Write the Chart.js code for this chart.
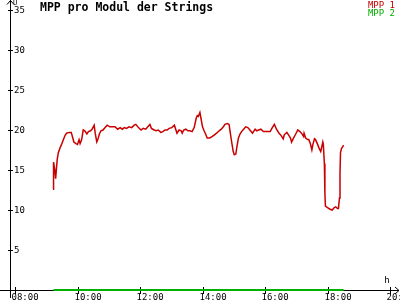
<!DOCTYPE html>
<html>
<head>
<meta charset="utf-8">
<script src="https://cdn.jsdelivr.net/npm/chart.js@4/dist/chart.umd.min.js"></script>
<style>
  html, body { margin: 0; padding: 0; background: #fff; }
  #wrap { width: 400px; height: 300px; }
</style>
</head>
<body>
<div id="wrap"><canvas id="chart" width="400" height="300"></canvas></div>
<script>
// ===== data =====
const mpp1Times = [
  "09:13","09:14","09:16","09:18","09:21","09:23","09:26","09:30","09:33","09:36",
  "09:39","09:44","09:48","09:51","09:53","09:57","10:00","10:03","10:05","10:08",
  "10:11","10:14","10:18","10:21","10:25","10:28","10:32","10:34","10:37","10:39",
  "10:42","10:45","10:49","10:53","10:57","11:02","11:09","11:12","11:17","11:22",
  "11:26","11:30","11:34","11:39","11:44","11:49","11:52","11:57","12:02","12:06",
  "12:11","12:15","12:19","12:22","12:27","12:31","12:35","12:40","12:44","12:48",
  "12:52","12:56","13:01","13:06","13:09","13:11","13:15","13:19","13:21","13:24",
  "13:28","13:32","13:36","13:40","13:44","13:48","13:50","13:52","13:55","13:57",
  "14:00","14:03","14:06","14:09","14:14","14:19","14:23","14:27","14:32","14:36",
  "14:40","14:43","14:48","14:51","14:53","14:56","14:59","15:01","15:04","15:06",
  "15:09","15:12","15:15","15:19","15:23","15:27","15:31","15:36","15:41","15:44",
  "15:48","15:52","15:57","16:03","16:10","16:14","16:18","16:22","16:27","16:31",
  "16:35","16:37","16:42","16:46","16:49","16:51","16:54","16:59","17:03","17:07",
  "17:10","17:14","17:15","17:18","17:22","17:24","17:27","17:30","17:32","17:35",
  "17:37","17:41","17:44","17:47","17:49","17:51","17:52","17:54","17:55","17:56",
  "18:00","18:05","18:09","18:13","18:16","18:19","18:21","18:23","18:24","18:25",
  "18:27","18:29","18:31"
];
const mpp1Values = [
  12.6,16.0,15.2,13.9,16.3,17.1,17.7,18.3,18.8,19.3,
  19.6,19.7,19.7,19.0,18.5,18.3,18.2,18.8,18.3,18.8,
  20.0,19.9,19.5,19.8,19.9,20.1,20.6,19.6,18.5,18.8,
  19.5,19.9,20.0,20.3,20.6,20.4,20.4,20.4,20.1,20.3,
  20.1,20.3,20.2,20.4,20.3,20.6,20.7,20.3,20.0,20.2,
  20.1,20.4,20.7,20.2,20.0,19.9,20.0,19.7,19.8,20.0,
  20.0,20.2,20.3,20.6,20.0,19.6,20.0,19.9,19.6,20.0,
  20.1,19.9,19.9,19.8,20.3,21.5,21.8,21.7,22.2,21.5,
  20.4,19.9,19.5,19.0,19.0,19.2,19.4,19.6,19.9,20.1,
  20.4,20.7,20.8,20.7,19.8,18.5,17.3,16.9,17.0,17.9,
  19.0,19.5,19.8,20.1,20.4,20.3,20.0,19.6,20.1,19.9,
  20.0,20.1,19.8,19.8,19.8,20.3,20.7,20.1,19.6,19.3,
  18.9,19.4,19.7,19.3,19.0,18.5,18.9,19.5,20.0,19.8,
  19.6,19.2,19.6,19.0,18.8,18.8,18.3,17.5,18.2,18.9,
  18.8,18.2,17.7,17.3,17.9,18.5,18.2,15.8,12.1,10.5,
  10.3,10.1,10.0,10.3,10.4,10.2,10.2,11.5,14.6,17.2,
  17.7,17.9,18.1
];
const mpp2Times = ["09:14","18:31"];
const mpp2Values = [0, 0];

const xTickLabels = ["08:00","10:00","12:00","14:00","16:00","18:00","20:00"];
const yTickLabels = ["5","10","15","20","25","30","35"];
const seriesNames = ["MPP 1","MPP 2"];
const titleText = "MPP pro Modul der Strings";

const RED = "#c80000";
const GREEN = "#00b000";
const MONO = "'DejaVu Sans Mono', monospace";

function toHours(t) {
    const p = t.split(":");
    return Number(p[0]) + Number(p[1]) / 60;
}

function toPoints(times, values) {
    return times.map((t, i) => ({ x: toHours(t), y: values[i] }));
}

// axes, ticks, title and legend are drawn by hand to look like the original
const axesPlugin = {
    id: "axes",
    beforeDatasetsDraw(chart) {
        const ctx = chart.ctx;
        const xs = chart.scales.x;
        const ys = chart.scales.y;
        const x0 = xs.getPixelForValue(toHours("08:00")) - 5;
        const y0 = ys.getPixelForValue(0);

        ctx.save();
        ctx.strokeStyle = "#000";
        ctx.fillStyle = "#000";
        ctx.lineWidth = 1;

        // y axis
        ctx.beginPath();
        ctx.moveTo(x0 + 0.5, 0);
        ctx.lineTo(x0 + 0.5, 298);
        ctx.moveTo(x0 - 3, 4.5);
        ctx.lineTo(x0 + 0.5, 0.5);
        ctx.lineTo(x0 + 4, 4.5);
        ctx.stroke();

        // x axis
        ctx.beginPath();
        ctx.moveTo(0, y0 + 0.5);
        ctx.lineTo(399, y0 + 0.5);
        ctx.moveTo(395, y0 - 3);
        ctx.lineTo(399, y0 + 0.5);
        ctx.lineTo(395, y0 + 4);
        ctx.stroke();

        ctx.font = "9px " + MONO;

        // y ticks
        ctx.textAlign = "left";
        ctx.textBaseline = "middle";
        yTickLabels.forEach(l => {
            const py = Math.round(ys.getPixelForValue(Number(l))) + 0.5;
            ctx.beginPath();
            ctx.moveTo(x0 - 2, py);
            ctx.lineTo(x0 + 3, py);
            ctx.stroke();
            ctx.fillText(l, x0 + 4, py + 0.5);
        });

        // x ticks
        ctx.textBaseline = "alphabetic";
        xTickLabels.forEach(l => {
            const px = Math.round(xs.getPixelForValue(toHours(l))) + 0.5;
            ctx.beginPath();
            ctx.moveTo(px, y0 - 3);
            ctx.lineTo(px, y0 + 4);
            ctx.stroke();
            ctx.fillText(l, px - 4, y0 + 10);
        });
        ctx.textAlign = "center";
        ctx.fillText("h", 387, y0 - 7);

        ctx.font = "7px " + MONO;
        ctx.textAlign = "left";
        ctx.fillText("U", x0 + 3, 5);
        ctx.restore();
    },
    afterDraw(chart) {
        const ctx = chart.ctx;
        ctx.save();
        ctx.font = "bold 11.5px " + MONO;
        ctx.fillStyle = "#000";
        ctx.textAlign = "left";
        ctx.textBaseline = "alphabetic";
        ctx.fillText(titleText, 40, 11);

        ctx.font = "9px " + MONO;
        ctx.textAlign = "right";
        ctx.fillStyle = RED;
        ctx.fillText(seriesNames[0], 395, 8);
        ctx.fillStyle = GREEN;
        ctx.fillText(seriesNames[1], 395, 16);
        ctx.restore();
    }
};

new Chart(document.getElementById("chart"), {
    type: "line",
    data: {
        datasets: [
            {
                label: seriesNames[0],
                data: toPoints(mpp1Times, mpp1Values),
                borderColor: RED,
                borderWidth: 1.5,
                pointRadius: 0,
                tension: 0,
                clip: false,
                order: 2
            },
            {
                label: seriesNames[1],
                data: toPoints(mpp2Times, mpp2Values),
                borderColor: GREEN,
                borderWidth: 2,
                pointRadius: 0,
                tension: 0,
                clip: false,
                order: 1
            }
        ]
    },
    options: {
        responsive: false,
        animation: false,
        layout: { padding: { left: 10, top: 2, right: 0, bottom: 10 } },
        plugins: {
            legend: { display: false },
            title: { display: false },
            tooltip: { enabled: false }
        },
        scales: {
            x: { type: "linear", min: 8 - 5 / 31.25, max: 8 + 385 / 31.25, display: false },
            y: { type: "linear", min: 0, max: 36, display: false }
        }
    },
    plugins: [axesPlugin]
});
</script>
</body>
</html>
